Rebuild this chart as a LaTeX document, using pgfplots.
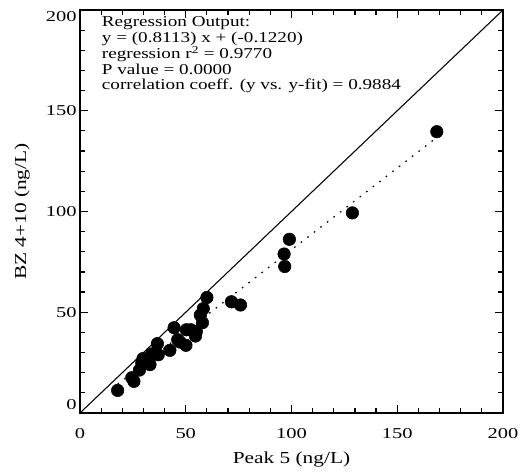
\documentclass[border=0pt]{standalone}
\usepackage{fontspec}
\setmainfont{Liberation Serif}
\newfontfamily\idltext[FakeStretch=1.27]{Liberation Serif}
\newfontfamily\idltick[FakeStretch=1.36]{Liberation Serif}
\usepackage{pgfplots}
\pgfplotsset{compat=1.18}

\begin{document}
\fontsize{11.3pt}{13pt}\selectfont
\begin{tikzpicture}
\begin{axis}[
  name=ax,
  scale only axis,
  width=317.25pt, height=302.25pt,
  xmin=0, xmax=200, ymin=0, ymax=200,
  xtick={0,50,100,150,200},
  ytick={0,50,100,150,200},
  yticklabels={\smash{\raisebox{2.3pt}{0}},50,100,150,\smash{\raisebox{-8.5pt}{200}}},
  minor x tick num=4, minor y tick num=4,
  tick align=inside,
  major tick length=6pt, minor tick length=3.75pt,
  axis line style={line width=1.1pt},
  tick style={line width=0.9pt, black},
  /pgf/number format/assume math mode=true,
  tick label style={font=\idltick\fontsize{11.3pt}{13pt}\selectfont},
  xticklabel style={yshift=-8pt},
  yticklabel style={xshift=1.5pt},
  xlabel={Peak 5 (ng/L)},
  ylabel={BZ 4+10 (ng/L)},
  every axis x label/.style={at={(axis description cs:0.5,-0.1166)}, anchor=center,
    font=\idltext\fontsize{12.6pt}{14pt}\selectfont},
  every axis y label/.style={at={(axis description cs:-0.137,0.5)}, rotate=90, anchor=center,
    font=\idltext\fontsize{12.6pt}{14pt}\selectfont},
  clip=false,
]
\addplot[black, line width=0.8pt] coordinates {(0,0) (200,200)};
\addplot[black, line width=0.9pt, dash pattern=on 1.2pt off 5pt] coordinates {(17.8,14.32) (168.7,136.74)};
\addplot[only marks, mark=*, mark size=4.7pt, mark options={fill=black, draw=black}] coordinates {
  (17.8,11.2) (24.5,17.5) (25.5,15.7) (28.1,21.3) (29.2,24.8) (29.8,27.0)
  (33.1,24.0) (33.9,29.3) (36.6,34.4) (37.0,28.9) (42.5,31.1) (44.5,42.3)
  (46.2,36.4) (47.3,35.2) (50.1,33.6) (50.3,41.3) (52.4,41.3) (54.6,38.2)
  (55.0,40.4) (57.9,44.8) (56.9,48.6) (58.3,51.8) (60.0,57.3) (71.6,55.2)
  (75.9,53.6) (96.5,78.9) (96.8,72.7) (99.0,86.2) (128.8,99.3) (168.7,139.6)
};
\node[anchor=north west, align=left, inner sep=0pt, font=\idltext\fontsize{11.3pt}{11.5pt}\selectfont]
  at (rel axis cs:0.0513,1) [yshift=-4.9pt] {Regression Output:\\
  y = (0.8113) x + (-0.1220)\\
  regression r\textsuperscript{2} = 0.9770\\
  P value = 0.0000\\
  correlation coeff. (y vs. y-fit) = 0.9884};
\end{axis}
\pgfresetboundingbox
\path[use as bounding box] ([xshift=-60pt,yshift=-45pt]ax.south west) rectangle ([xshift=14.25pt,yshift=7.5pt]ax.north east);
\end{tikzpicture}
\end{document}
